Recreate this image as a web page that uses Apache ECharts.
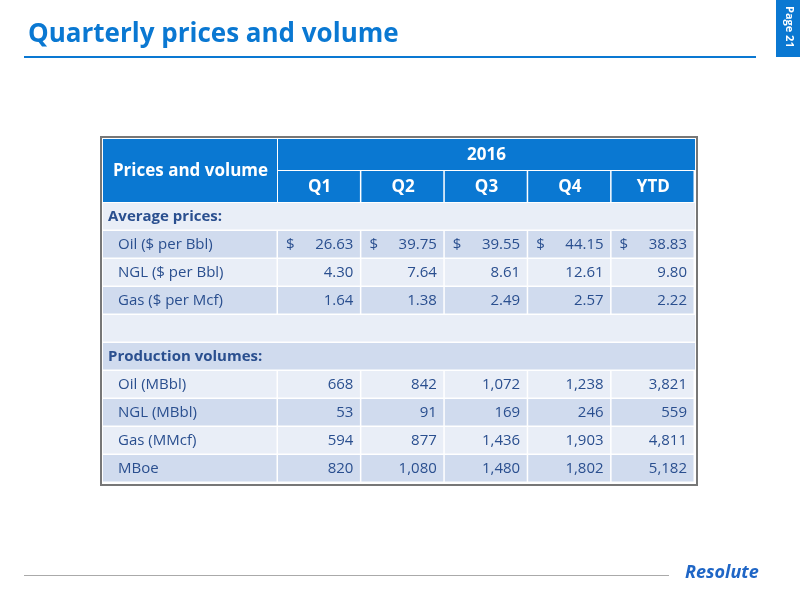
<!DOCTYPE html>
<html>
<head>
<meta charset="utf-8">
<script src="https://cdn.jsdelivr.net/npm/echarts@6/dist/echarts.min.js"></script>
<style>html,body{margin:0;padding:0;background:#fff}#main{width:800px;height:600px}</style>
</head>
<body>
<div id="main"></div>
<script>
let columns = ['Q1', 'Q2', 'Q3', 'Q4', 'YTD'];
let rowLabels = ['Average prices:', 'Oil ($ per Bbl)', 'NGL ($ per Bbl)', 'Gas ($ per Mcf)', '',
    'Production volumes:', 'Oil (MBbl)', 'NGL (MBbl)', 'Gas (MMcf)', 'MBoe'];
let oilPrice = ['26.63', '39.75', '39.55', '44.15', '38.83'];
let nglPrice = ['4.30', '7.64', '8.61', '12.61', '9.80'];
let gasPrice = ['1.64', '1.38', '2.49', '2.57', '2.22'];
let oilVol = ['668', '842', '1,072', '1,238', '3,821'];
let nglVol = ['53', '91', '169', '246', '559'];
let gasVol = ['594', '877', '1,436', '1,903', '4,811'];
let mboe = ['820', '1,080', '1,480', '1,802', '5,182'];
let rowValues = [null, oilPrice, nglPrice, gasPrice, null, null, oilVol, nglVol, gasVol, mboe];

let chart = echarts.init(document.getElementById('main'));
let font = '"Open Sans", Calibri, sans-serif';
let blue = '#0a78d2';
let txt = '#2a4f8f';
let tLeft = 103, labelW = 175, colW = 83.4, tTop = 139, headH = 32, rowH = 28;
let els = [];

// title, header line, page tag
els.push({type: 'text', left: 28, top: 22, style: {text: 'Quarterly prices and volume', font: 'bold 26px ' + font, fill: blue}});
els.push({type: 'rect', shape: {x: 24, y: 56, width: 732, height: 2}, style: {fill: blue}});
els.push({type: 'rect', shape: {x: 776, y: 0, width: 24, height: 57}, style: {fill: blue}});
els.push({type: 'text', x: 795, y: 6, rotation: -Math.PI / 2,
    style: {text: 'Page 21', font: 'bold 11px ' + font, fill: '#fff'}});
els.push({type: 'rect', shape: {x: 24, y: 575, width: 645, height: 1}, style: {fill: '#aaa'}});
els.push({type: 'text', left: 685, top: 564, style: {text: 'Resolute', font: 'italic bold 18px ' + font, fill: '#1f66c6'}});

let totalW = labelW + colW * columns.length;
let totalH = headH * 2 + rowH * rowLabels.length;
els.push({type: 'rect', shape: {x: tLeft - 2, y: tTop - 2, width: totalW + 4, height: totalH + 4},
    style: {fill: '#fff', stroke: '#777', lineWidth: 2}});

// header
els.push({type: 'rect', shape: {x: tLeft, y: tTop, width: labelW - 1, height: headH * 2 - 1}, style: {fill: blue}});
els.push({type: 'text', x: tLeft + labelW / 2, y: tTop + headH, style: {text: 'Prices and volume', font: 'bold 17px ' + font, fill: '#fff', align: 'center', verticalAlign: 'middle'}});
els.push({type: 'rect', shape: {x: tLeft + labelW, y: tTop, width: colW * columns.length, height: headH - 1}, style: {fill: blue}});
els.push({type: 'text', x: tLeft + labelW + colW * columns.length / 2, y: tTop + headH / 2, style: {text: '2016', font: 'bold 17px ' + font, fill: '#fff', align: 'center', verticalAlign: 'middle'}});
columns.forEach(function (c, j) {
    let x = tLeft + labelW + colW * j;
    els.push({type: 'rect', shape: {x: x, y: tTop + headH, width: colW - 1.5, height: headH - 1}, style: {fill: blue}});
    els.push({type: 'text', x: x + colW / 2, y: tTop + headH * 1.5, style: {text: c, font: 'bold 17px ' + font, fill: '#fff', align: 'center', verticalAlign: 'middle'}});
});

// body rows
rowLabels.forEach(function (lab, i) {
    let y = tTop + headH * 2 + rowH * i;
    let fill = i % 2 === 0 ? '#e9eef7' : '#d0dbee';
    let section = lab === 'Average prices:' || lab === 'Production volumes:';
    let vals = rowValues[i];
    if (!vals) {
        els.push({type: 'rect', shape: {x: tLeft, y: y, width: totalW, height: rowH - 1.5}, style: {fill: fill}});
    } else {
        els.push({type: 'rect', shape: {x: tLeft, y: y, width: labelW - 1.5, height: rowH - 1.5}, style: {fill: fill}});
        vals.forEach(function (v, j) {
            let x = tLeft + labelW + colW * j;
            els.push({type: 'rect', shape: {x: x, y: y, width: colW - 1.5, height: rowH - 1.5}, style: {fill: fill}});
            els.push({type: 'text', x: x + colW - 8, y: y + rowH / 2, style: {text: v, font: '15px ' + font, fill: txt, align: 'right', verticalAlign: 'middle'}});
            if (i === 1) {
                els.push({type: 'text', x: x + 8, y: y + rowH / 2, style: {text: '$', font: '15px ' + font, fill: txt, verticalAlign: 'middle'}});
            }
        });
    }
    els.push({type: 'text', x: tLeft + (section ? 5 : 15), y: y + rowH / 2,
        style: {text: lab, font: (section ? 'bold ' : '') + '15px ' + font, fill: txt, verticalAlign: 'middle'}});
});

chart.setOption({graphic: els});
</script>
</body>
</html>
